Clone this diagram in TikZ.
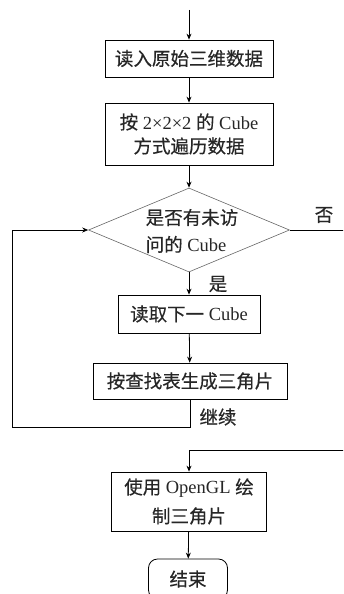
\documentclass[tikz,border=0pt]{standalone}
\usepackage{fontspec}
\setmainfont{Liberation Serif}
\newfontfamily\cjk[FakeBold=0.4]{Noto Sans CJK SC}
\usetikzlibrary{shapes.geometric,arrows.meta}
\begin{document}
\begin{tikzpicture}[x=1pt,y=-1pt,
  txt/.style={font=\fontsize{18.5}{24}\selectfont, text=black!85, inner sep=0pt},
  box/.style={txt, draw=black, line width=0.8pt, align=center},
  arr/.style={-{Stealth[length=6pt,width=5pt]}, line width=0.8pt},
  ln/.style={line width=0.8pt}]
\useasboundingbox (0,0) rectangle (343,594);
\clip (0,0) rectangle (343,594);
\coordinate (top) at (189,10);
\node[box, minimum width=168pt, minimum height=37pt] (b1) at (189,58.5) {{\cjk 读入原始三维数据}};
\node[box, minimum width=168pt, minimum height=62pt] (b2) at (189,134) {{\cjk 按} 2×2×2 {\cjk 的} Cube\\{\cjk 方式遍历数据}};
\node[diamond, draw=black!60, line width=0.6pt, minimum width=201pt, minimum height=84pt, inner sep=0pt] (d) at (189,230) {};
\node[txt, align=left, font=\fontsize{18.5}{27}\selectfont] (dt) at (192,231) {{\cjk 是否有未访}\\{\cjk 问的} Cube};
\node[box, minimum width=142pt, minimum height=38pt] (b3) at (189,314) {{\cjk 读取下一} Cube};
\node[box, minimum width=194pt, minimum height=36pt] (b4) at (190,381) {{\cjk 按查找表生成三角片}};
\node[box, minimum width=155pt, minimum height=59pt, font=\fontsize{18.5}{29}\selectfont] (b5) at (189,501.5) {{\cjk 使用} OpenGL {\cjk 绘}\\{\cjk 制三角片}};
\node[box, rounded corners=9pt, minimum width=79pt, minimum height=40pt] (e) at (188,579) {{\cjk 结束}};
\node[txt] (no) at (324,215) {{\cjk 否}};
\node[txt] (yes) at (218,284) {{\cjk 是}};
\node[txt] (cont) at (218,417) {{\cjk 继续}};
\coordinate (loopL) at (12,427);
\coordinate (rT) at (346,230);
\coordinate (rB) at (346,450);
\draw[arr] (top) -- (b1);
\draw[arr] (b1) -- (b2);
\draw[arr] (b2) -- (d);
\draw[arr] (d) -- (b3);
\draw[arr] (b3) -- (b4);
\draw[arr] (b4.south) |- (loopL) |- (d.west);
\draw[arr] (d.east) -- (rT) -- (rB) -| (b5.north);
\draw[arr] (b5) -- (e);
\end{tikzpicture}
\end{document}
